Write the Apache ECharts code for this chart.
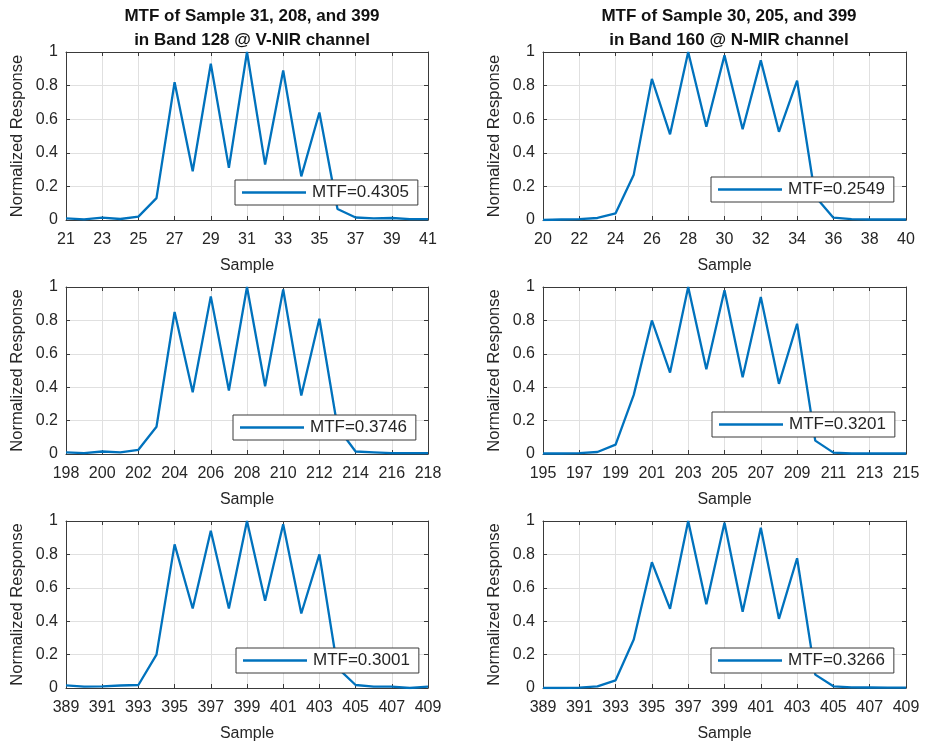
<!DOCTYPE html>
<html>
<head>
<meta charset="utf-8">
<script src="https://cdn.jsdelivr.net/npm/echarts@6/dist/echarts.min.js"></script>
<style>
  html, body { margin: 0; padding: 0; background: #fff; }
  #chart { width: 925px; height: 743px; }
</style>
</head>
<body>
<div id="chart"></div>
<script>
// First sample index of each panel's window (consecutive samples, 21 per panel)
const startVnir31 = 21, startNmir30 = 20;
const startVnir208 = 198, startNmir205 = 195;
const startVnir399 = 389, startNmir399 = 389;

// Normalized response per sample
const respVnir31 = [0.01, 0.004, 0.014, 0.006, 0.02, 0.13, 0.82, 0.29, 0.93, 0.31, 1.0,
  0.33, 0.89, 0.26, 0.64, 0.065, 0.015, 0.01, 0.012, 0.005, 0.005];
const respNmir30 = [0, 0.003, 0.005, 0.012, 0.04, 0.27, 0.84, 0.51, 1.0, 0.555, 0.98,
  0.54, 0.95, 0.525, 0.83, 0.14, 0.014, 0.005, 0.003, 0.003, 0.003];
const respVnir208 = [0.01, 0.005, 0.015, 0.01, 0.025, 0.163, 0.85, 0.37, 0.944, 0.38, 1.0,
  0.406, 0.986, 0.35, 0.81, 0.16, 0.015, 0.01, 0.005, 0.005, 0.005];
const respNmir205 = [0.003, 0.003, 0.005, 0.012, 0.056, 0.354, 0.80, 0.488, 1.0, 0.508, 0.98,
  0.46, 0.94, 0.42, 0.78, 0.08, 0.008, 0.003, 0.003, 0.003, 0.003];
const respVnir399 = [0.016, 0.008, 0.01, 0.015, 0.018, 0.2, 0.86, 0.476, 0.942, 0.476, 1.0,
  0.522, 0.98, 0.446, 0.80, 0.12, 0.018, 0.008, 0.008, 0.0, 0.008];
const respNmir399 = [0, 0, 0.002, 0.01, 0.046, 0.29, 0.753, 0.474, 1.0, 0.502, 0.99,
  0.456, 0.96, 0.414, 0.777, 0.08, 0.01, 0.004, 0.003, 0.002, 0.002];

// Legend labels
const mtfLabels = ['MTF=0.4305', 'MTF=0.2549', 'MTF=0.3746', 'MTF=0.3201', 'MTF=0.3001', 'MTF=0.3266'];

// Column titles
const titleLeft = 'MTF of Sample 31, 208, and 399\nin Band 128 @ V-NIR channel';
const titleRight = 'MTF of Sample 30, 205, and 399\nin Band 160 @ N-MIR channel';

// Axis text
const xName = 'Sample';
const yName = 'Normalized Response';

const panels = [
  { start: startVnir31, resp: respVnir31, label: mtfLabels[0] },
  { start: startNmir30, resp: respNmir30, label: mtfLabels[1] },
  { start: startVnir208, resp: respVnir208, label: mtfLabels[2] },
  { start: startNmir205, resp: respNmir205, label: mtfLabels[3] },
  { start: startVnir399, resp: respVnir399, label: mtfLabels[4] },
  { start: startNmir399, resp: respNmir399, label: mtfLabels[5] }
];

// Layout: plot boxes and legend anchors
const boxes = [
  { left: 66, top: 52, width: 362, height: 168, lx: 235, ly: 180 },
  { left: 543, top: 52, width: 363, height: 168, lx: 711, ly: 177 },
  { left: 66, top: 287, width: 362, height: 167, lx: 233, ly: 415 },
  { left: 543, top: 287, width: 363, height: 167, lx: 712, ly: 412 },
  { left: 66, top: 521, width: 362, height: 167, lx: 236, ly: 648 },
  { left: 543, top: 521, width: 363, height: 167, lx: 711, ly: 648 }
];

const INK = '#262626';
const FRAME = '#3a3a3a';
const GRID = '#e0e0e0';
const LINE = '#0072BD';
const FONT = '"Liberation Sans", Arial, Helvetica, sans-serif';

const grid = [], xAxis = [], yAxis = [], series = [], legend = [];

panels.forEach((p, i) => {
  const b = boxes[i];
  const n = p.resp.length;
  const xMin = p.start, xMax = p.start + n - 1;
  grid.push({ left: b.left, top: b.top, width: b.width, height: b.height, containLabel: false });

  // bottom axis with labels and grid
  xAxis.push({
    type: 'value', gridIndex: i, min: xMin, max: xMax, interval: 2,
    name: xName, nameLocation: 'middle', nameGap: 38,
    nameTextStyle: { color: INK, fontSize: 16, fontFamily: FONT },
    axisLine: { show: true, lineStyle: { color: FRAME, width: 1 } },
    axisTick: { show: true, inside: true, length: 4, lineStyle: { color: FRAME } },
    axisLabel: { color: INK, fontSize: 16, fontFamily: FONT, margin: 12 },
    splitLine: { show: true, lineStyle: { color: GRID, width: 1 } }
  });
  // top frame edge
  xAxis.push({
    type: 'value', gridIndex: i, position: 'top', min: xMin, max: xMax, interval: 2,
    axisLine: { show: true, onZero: false, lineStyle: { color: FRAME, width: 1 } },
    axisTick: { show: true, inside: true, length: 4, lineStyle: { color: FRAME } },
    axisLabel: { show: false },
    splitLine: { show: false }
  });
  // left axis
  yAxis.push({
    type: 'value', gridIndex: i, min: 0, max: 1, interval: 0.2,
    name: yName, nameLocation: 'middle', nameGap: 40, nameRotate: 90,
    nameTextStyle: { color: INK, fontSize: 16.5, fontFamily: FONT },
    axisLine: { show: true, onZero: false, lineStyle: { color: FRAME, width: 1 } },
    axisTick: { show: true, inside: true, length: 4, lineStyle: { color: FRAME } },
    axisLabel: { color: INK, fontSize: 16, fontFamily: FONT, margin: 8,
      formatter: v => String(Math.round(v * 10) / 10) },
    splitLine: { show: true, lineStyle: { color: GRID, width: 1 } }
  });
  // right frame edge
  yAxis.push({
    type: 'value', gridIndex: i, position: 'right', min: 0, max: 1, interval: 0.2,
    axisLine: { show: true, onZero: false, lineStyle: { color: FRAME, width: 1 } },
    axisTick: { show: true, inside: true, length: 4, lineStyle: { color: FRAME } },
    axisLabel: { show: false },
    splitLine: { show: false }
  });

  series.push({
    type: 'line', name: p.label,
    xAxisIndex: 2 * i, yAxisIndex: 2 * i,
    data: p.resp.map((v, k) => [p.start + k, v]),
    symbol: 'none', smooth: false,
    lineStyle: { color: LINE, width: 2.3 },
    itemStyle: { color: LINE },
    z: 3
  });

  legend.push({
    data: [p.label], left: b.lx, top: b.ly,
    orient: 'horizontal',
    icon: 'rect', itemWidth: 64, itemHeight: 2.4,
    padding: [4, 9, 4, 7],
    backgroundColor: '#ffffff', borderColor: FRAME, borderWidth: 1, borderRadius: 0,
    textStyle: { color: INK, fontSize: 17, fontFamily: FONT, padding: [0, 0, 0, 1] },
    selectedMode: false, z: 10
  });
});

const titleStyle = { color: '#111', fontSize: 17, fontWeight: 'bold', fontFamily: FONT, lineHeight: 24 };

const option = {
  animation: false,
  backgroundColor: '#ffffff',
  title: [
    { text: titleLeft, left: 247, top: -1, textAlign: 'center', textStyle: titleStyle },
    { text: titleRight, left: 724, top: -1, textAlign: 'center', textStyle: titleStyle }
  ],
  grid, xAxis, yAxis, series, legend
};

const chart = echarts.init(document.getElementById('chart'), null, { renderer: 'canvas' });
chart.setOption(option);
</script>
</body>
</html>
